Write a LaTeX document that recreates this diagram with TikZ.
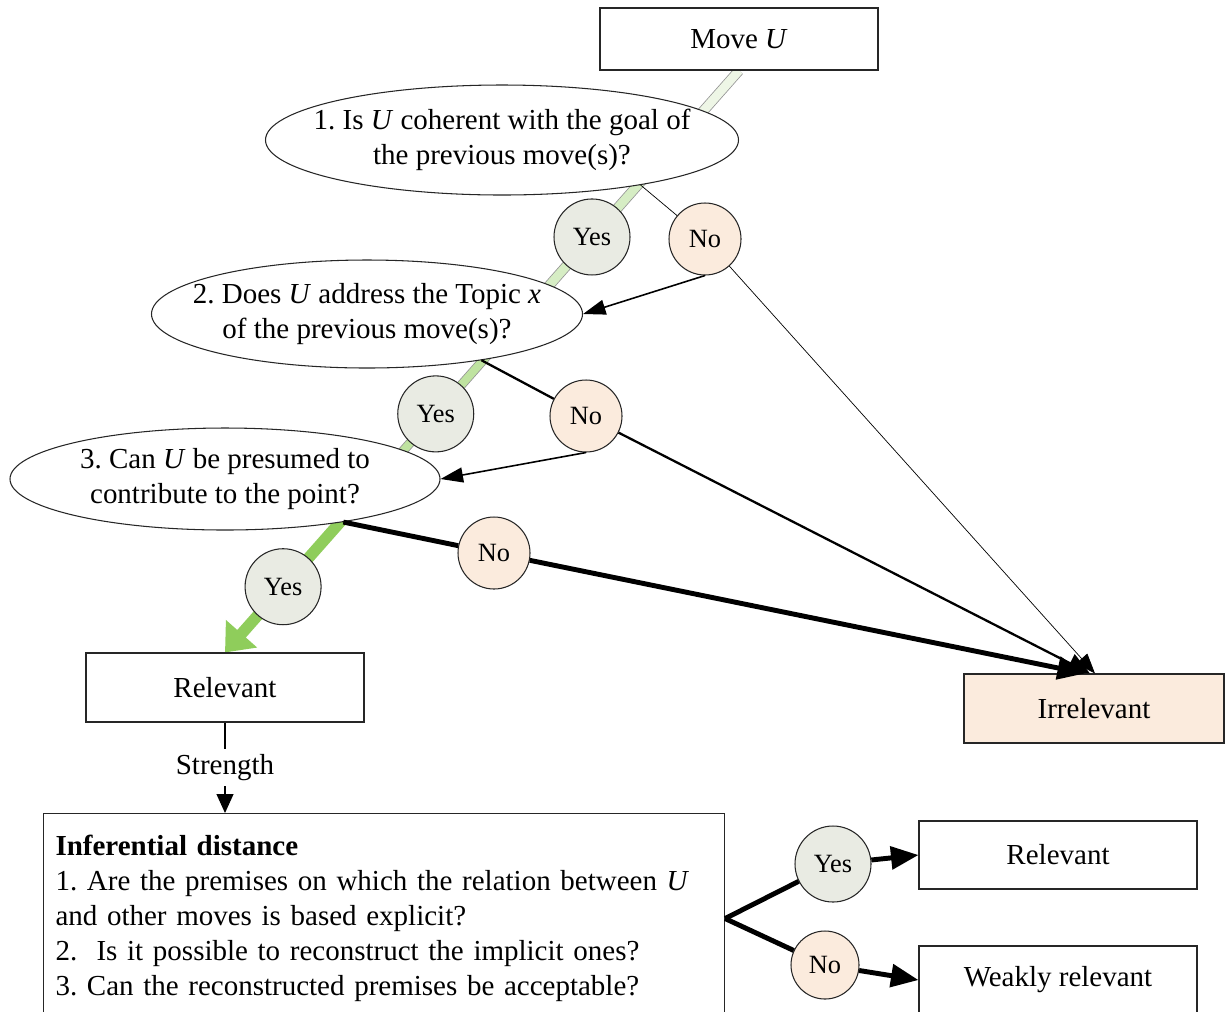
\documentclass[tikz,border=0pt]{standalone}
\usepackage{fontspec}
\setmainfont{Liberation Serif}
\usepackage{xcolor}
\definecolor{yesfill}{HTML}{E9EBE3}
\definecolor{nofill}{HTML}{FBEBDD}
\definecolor{paleg}{HTML}{EEF6E6}
\definecolor{lightg}{HTML}{D6EDC4}
\definecolor{midg}{HTML}{BFE3A0}
\definecolor{brightg}{HTML}{8FCD5B}
\usepackage{tikz}
\usetikzlibrary{arrows.meta, shapes.geometric, positioning, calc, backgrounds}
\frenchspacing

\begin{document}
\begin{tikzpicture}[
  font=\fontsize{16.5}{19.9}\selectfont,
  box/.style={draw=black!85, line width=0.6pt, fill=#1,
    minimum width=5.56cm, minimum height=1.36cm},
  box/.default=white,
  quest/.style={ellipse, draw=black!85, line width=0.6pt, fill=white,
    align=center, inner xsep=-0.7cm, inner ysep=0pt},
  yes/.style={circle, draw=black!85, line width=0.6pt, fill=yesfill,
    minimum size=1.52cm, inner sep=0pt, font=\fontsize{15}{18}\selectfont},
  no/.style={circle, draw=black!85, line width=0.6pt, fill=nofill,
    minimum size=1.44cm, inner sep=0pt, font=\fontsize{15}{18}\selectfont},
  noline/.style={line width=#1},
  greenband/.style={draw=gray!85, line width=0.45pt, double=#1, double distance=5pt},
  bighead/.style={-{Triangle[length=0.55cm, width=0.45cm]}},
  smallhead/.style={-{Triangle[length=0.45cm, width=0.3cm]}}
]
  \useasboundingbox (0,0) rectangle (24.54,-20.22);

  \node[box, minimum height=1.24cm] (move) at (14.78,-0.78) {Move \textit{U}};
  \node[box, minimum height=1.38cm] (rel) at (4.50,-13.75) {Relevant};
  \node[box=nofill, minimum width=5.2cm, minimum height=1.38cm]
    (irr) at (21.88,-14.17) {Irrelevant};

  % questions
  \node[quest, minimum width=9.46cm, minimum height=2.2cm] (q1) at (10.04,-2.80)
    {1. Is \textit{U} coherent with the goal of\\the previous move(s)?};
  \node[quest, minimum width=8.62cm, minimum height=2.16cm] (q2) at (7.34,-6.28)
    {2. Does \textit{U} address the Topic \textit{x}\\of the previous move(s)?};
  \node[quest, minimum width=8.6cm, minimum height=2.04cm] (q3) at (4.50,-9.58)
    {3. Can \textit{U} be presumed to\\contribute to the point?};

  \node[yes] (yes1) at ($(move.south)!0.286!(rel.north)$) {Yes};
  \node[yes] (yes2) at ($(move.south)!0.590!(rel.north)$) {Yes};
  \node[yes] (yes3) at ($(move.south)!0.887!(rel.north)$) {Yes};
  \node[no] (no1) at (14.10,-4.78) {No};
  \node[no] (no2) at (11.72,-8.32) {No};
  \node[no] (no3) at (9.88,-11.06) {No};

  % strength part
  \node[draw=black!85, line width=0.6pt, anchor=north west, align=left,
    text width=13.14cm, inner xsep=0.24cm, minimum height=4.2cm]
    (dist) at (0.86,-16.26)
    {\textbf{Inferential distance}\\
     1. Are the premises on which the relation between \textit{U}\\
     and other moves is based explicit?\\
     2.\ \ Is it possible to reconstruct the implicit ones?\\
     3. Can the reconstructed premises be acceptable?};
  \node[box] (rel2) at (21.16,-17.10) {Relevant};
  \node[box] (weak) at (21.16,-19.60) {Weakly relevant};
  \node[yes] (yes4) at (16.66,-17.28) {Yes};
  \node[no, minimum size=1.36cm] (no4) at (16.50,-19.30) {No};

  \begin{scope}[on background layer]
    \coordinate (g1) at ($(move.south)!0.12!(rel.north)$);
    \coordinate (g2) at ($(move.south)!0.4185!(rel.north)$);
    \coordinate (g3) at ($(move.south)!0.7015!(rel.north)$);
    \draw[greenband=paleg] (move.south) -- (g1);
    \draw[greenband=lightg] (g1) -- (g2);
    \draw[greenband=midg, double distance=4.5pt] (g2) -- (g3);
    \draw[brightg, line width=6.5pt, -{Triangle[length=0.5cm, width=0.8cm]}]
      (g3) -- (rel.north);
  \end{scope}

  % no branches
  \draw[noline=0.4pt] (q1.-18) -- (no1);
  \draw[noline=0.4pt, -{Triangle[length=0.4cm, width=0.3cm]}] (no1) -- ([xshift=0.02cm]irr.north);
  \draw[noline=0.9pt, smallhead] (no1.south) -- (q2.east);

  \draw[noline=1.3pt] (q2.-22) -- (no2);
  \draw[noline=1.3pt, -{Triangle[length=0.45cm, width=0.4cm]}] (no2) -- ([xshift=-0.08cm]irr.north);
  \draw[noline=0.9pt, smallhead] (no2.south) -- (q3.east);

  \draw[noline=2.8pt] (q3.-20) -- (no3);
  \draw[noline=2.8pt, bighead] (no3) -- ([xshift=-0.18cm]irr.north);

  \draw[line width=0.6pt, -{Triangle[length=0.38cm, width=0.34cm]}]
    (rel.south) -- node[fill=white, inner sep=3pt] {Strength} (rel.south |- dist.north);

  \draw[noline=2.8pt] (dist.east) -- (yes4);
  \draw[noline=2.8pt, bighead] (yes4) -- (rel2.west);
  \draw[noline=2.8pt] (dist.east) -- (no4);
  \draw[noline=2.8pt, bighead] (no4) -- (weak.west);
\end{tikzpicture}
\end{document}
